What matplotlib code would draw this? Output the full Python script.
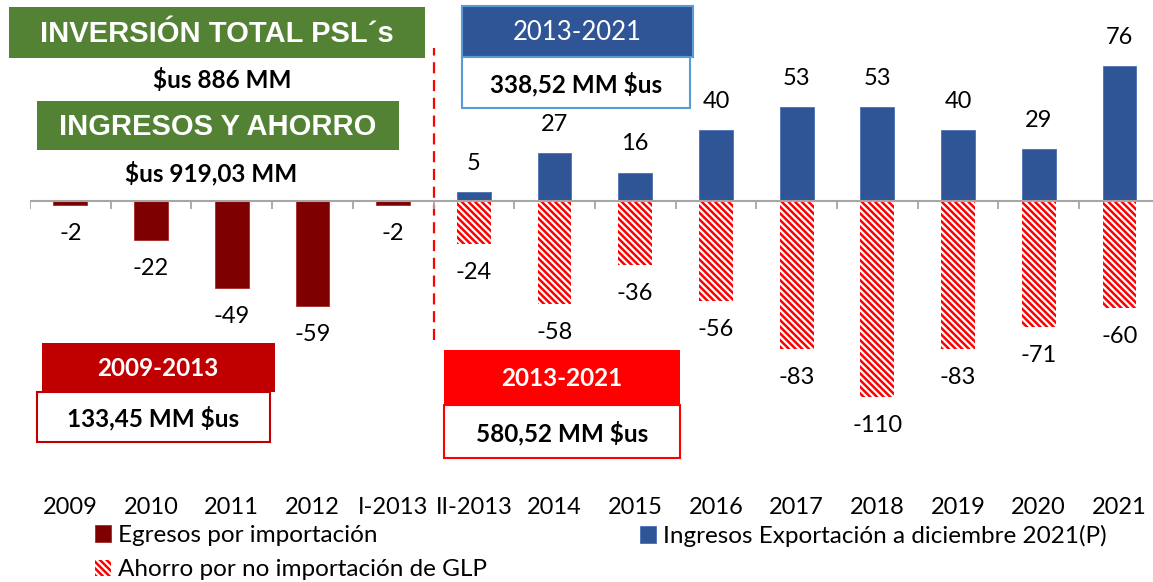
import numpy as np
import matplotlib
matplotlib.use("Agg")
import matplotlib.pyplot as plt
from matplotlib.patches import Rectangle

plt.rcParams["font.family"] = "Lato"
plt.rcParams["hatch.linewidth"] = 1.8

# data (MM $us)
categorias = ["2009", "2010", "2011", "2012", "I-2013", "II-2013", "2014",
              "2015", "2016", "2017", "2018", "2019", "2020", "2021"]
egresos = [-2, -22, -49, -59, -2]                          # 2009 .. I-2013
ingresos = [5, 27, 16, 40, 53, 53, 40, 29, 76]              # II-2013 .. 2021
ahorro = [-24, -58, -36, -56, -83, -110, -83, -71, -60]     # II-2013 .. 2021

W, H = 1153, 582
fig = plt.figure(figsize=(W / 100, H / 100), dpi=100)

# plot area in pixels: x 30..1153, y 0..480, zero line at y=201
ax = fig.add_axes([30 / W, 1 - 480 / H, 1123 / W, 480 / H])
ax.set_xlim(-0.5, -0.5 + 1123 / 80.7)
ax.set_ylim(-(480 - 201) / 1.78, 201 / 1.78)

x = np.arange(len(categorias))
x_eg = x[:len(egresos)]
x_in = x[len(egresos):]

b_eg = ax.bar(x_eg, egresos, width=0.42, color="#7F0000", edgecolor="#A52A2A",
              linewidth=0.6, label="Egresos por importación")
b_ah = ax.bar(x_in, ahorro, width=0.42, color="white", edgecolor="#FF0000",
              hatch="\\\\\\\\\\", linewidth=0, label="Ahorro por no importación de GLP")
b_in = ax.bar(x_in, ingresos, width=0.42, color="#2F5597", edgecolor="#4A6FB0",
              linewidth=0.6, label="Ingresos Exportación a diciembre 2021(P)")

for b in (b_eg, b_ah, b_in):
    ax.bar_label(b, padding=13, fontsize=17, color="black")

# zero line with category ticks
ax.axhline(0, color="#A6A6A6", lw=1.5, zorder=3)
ax.vlines(np.arange(-0.5, len(categorias) - 0.5, 1.0), -4.5, 0,
          color="#A6A6A6", lw=1.3, zorder=3)

# dashed separator
ax.axvline(4.5, ymin=(480 - 340) / 480, ymax=(480 - 48) / 480, color="#FF0000",
           lw=1.6, dashes=(5, 3))

ax.set_xticks(x, categorias, fontsize=17)
ax.tick_params(axis="x", length=0, pad=12)
ax.set_yticks([])
for s in ax.spines.values():
    s.set_visible(False)


def caja(x0, y0, x1, y1, fc, ec="none", lw=0):
    fig.patches.append(Rectangle((x0 / W, 1 - y1 / H), (x1 - x0) / W, (y1 - y0) / H,
                                 transform=fig.transFigure, facecolor=fc,
                                 edgecolor=ec, linewidth=lw, zorder=2))


def texto(px, py, s, **kw):
    fig.text(px / W, 1 - py / H, s, ha="center", va="center", zorder=5, **kw)


# green headers, left
caja(9, 7, 425, 58, "#548235")
texto(217, 34, "INVERSIÓN TOTAL PSL´s", family="Liberation Sans", fontsize=21,
      fontweight="bold", color="white")
texto(222, 80, "$us 886 MM", fontsize=17.5, fontweight="bold")
caja(37, 101, 399, 150, "#548235")
texto(218, 127, "INGRESOS Y AHORRO", family="Liberation Sans", fontsize=21,
      fontweight="bold", color="white")
texto(211, 173, "$us 919,03 MM", fontsize=17.5, fontweight="bold")

# blue box
caja(462, 6, 693, 57, "#2F5597", "#5B9BD5", 1.5)
texto(577, 33, "2013-2021", fontsize=18.5, color="white")
caja(462, 57, 690, 108, "white", "#5B9BD5", 1.5)
texto(576, 84, "338,52 MM $us", fontsize=17.5, fontweight="bold")

# red boxes
caja(42, 343, 275, 392, "#C00000")
texto(158, 368, "2009-2013", fontsize=17.5, fontweight="bold", color="white")
caja(37, 392, 270, 442, "white", "#C00000", 1.5)
texto(153, 418, "133,45 MM $us", fontsize=17.5, fontweight="bold")

caja(444, 350, 680, 404, "#FF0000")
texto(562, 378, "2013-2021", fontsize=17.5, fontweight="bold", color="white")
caja(444, 405, 680, 458, "white", "#FF0000", 1.5)
texto(562, 433, "580,52 MM $us", fontsize=17.5, fontweight="bold")

# legends
leg_kw = dict(frameon=False, fontsize=17.5, handlelength=0.65, handleheight=0.65,
              handletextpad=0.3, borderpad=0, borderaxespad=0, labelspacing=0.55)
leg1 = fig.legend(handles=[b_eg, b_ah], loc="upper left",
                  bbox_to_anchor=(95 / W, 1 - 525 / H), **leg_kw)
leg2 = fig.legend(handles=[b_in], loc="upper left",
                  bbox_to_anchor=(640 / W, 1 - 525 / H), **leg_kw)

fig.savefig("out.png", dpi=100)
